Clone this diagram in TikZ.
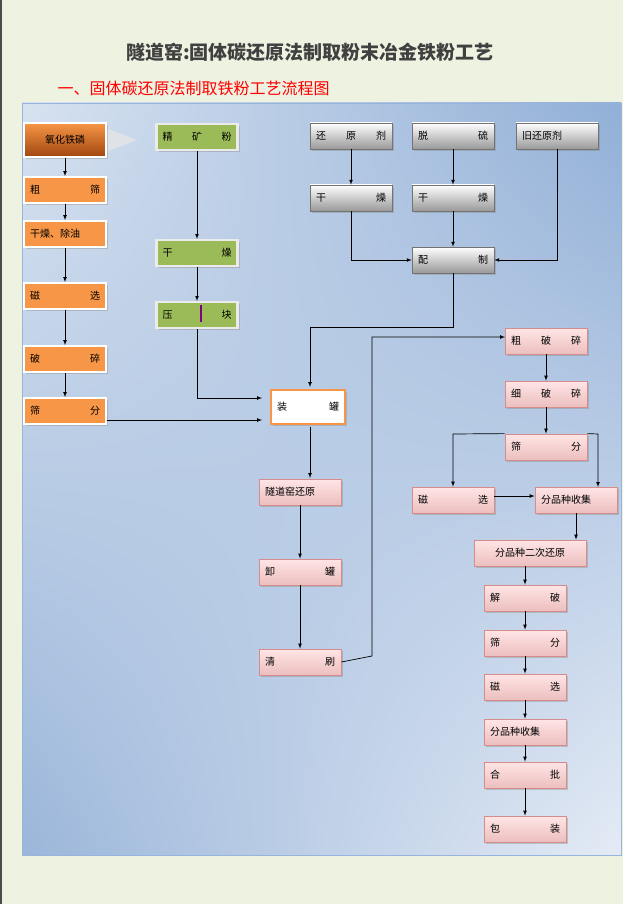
\documentclass[tikz,border=0pt]{standalone}
\usepackage{fontspec}
\newfontfamily\cjk{Noto Sans CJK SC}
\usetikzlibrary{shadows,shadings}
\definecolor{pg}{RGB}{237,242,225}
\definecolor{ogc}{RGB}{247,150,70}
\definecolor{ogd}{RGB}{160,70,15}
\definecolor{grc}{RGB}{155,187,89}
\definecolor{pkb}{RGB}{236,190,190}
\definecolor{pkd}{RGB}{215,140,140}
\definecolor{bur}{RGB}{145,175,215}
\definecolor{bul}{RGB}{215,226,240}
\definecolor{bll}{RGB}{155,182,218}
\definecolor{blr}{RGB}{228,235,245}
\definecolor{bfr}{RGB}{150,180,220}
\begin{document}
\begin{tikzpicture}[x=1pt,y=-1pt,
 base/.style={minimum height=26pt,text width=#1,align=left,inner xsep=6pt,font=\cjk\fontsize{10}{12}\selectfont,drop shadow={shadow xshift=2pt,shadow yshift=-2pt,opacity=.35}},
 og/.style={base=70pt,fill=ogc,draw=white,line width=1.8pt},
 gr/.style={base=69pt,fill=grc,draw=white!92!black,line width=2.2pt},
 gy/.style={base=70pt,top color=white,bottom color=black!40,draw=black!55,line width=.6pt},
 pkf/.style={top color=white!90!red,bottom color=pkb,draw=pkd,line width=.8pt},
 pk/.style={base=70pt,pkf},
 ar/.style={-latex,line width=.7pt},
 ln/.style={line width=.7pt}]
\useasboundingbox (0,0) rectangle (623,904);
\fill[pg] (0,0) rectangle (623,904);
\draw[line width=1.5pt,black!70] (1,0)--(1,904);
\shade[upper right=bur,upper left=bul,lower left=bll,lower right=blr] (22,103) rectangle (621,855);
\draw[bfr,line width=.8pt] (22,103) rectangle (621,855);
\node[font=\cjk\bfseries\fontsize{19}{22}\selectfont,text=black!75] (title) at (310,52) {隧道窑:固体碳还原法制取粉末冶金铁粉工艺};
\node[font=\cjk\fontsize{16}{19}\selectfont,text=red,anchor=west] (sub) at (54,88) {一、固体碳还原法制取铁粉工艺流程图};
\coordinate (k1) at (0,420);
\coordinate (k2) at (0,496);
% left column
\fill[black!10,opacity=.8] (106,128)--(137,140)--(106,152)--cycle;
\node[base=70pt,minimum height=34pt,align=center,top color=ogc,bottom color=ogd,draw=white,line width=1.5pt] (a0) at (65,140) {氧化铁磷};
\node[og] (a1) at (65,190) {粗\hfill 筛};
\node[og] (a2) at (65,234) {干燥、除油};
\node[og] (a3) at (65,296) {磁\hfill 选};
\node[og] (a4) at (65,359) {破\hfill 碎};
\node[og] (a5) at (65,411) {筛\hfill 分};
\foreach \i/\j in {a0/a1,a1/a2,a2/a3,a3/a4,a4/a5} \draw[ar] (\i)--(\j);
% green column
\node[gr] (g1) at (197,137) {精\hfill 矿\hfill 粉};
\node[gr] (g2) at (197,253) {干\hfill 燥};
\node[gr] (g3) at (197,315) {压\hfill 块};
\draw[ar] (g1)--(g2); \draw[ar] (g2)--(g3);
\draw[line width=1.2pt,violet] (201,305)--(201,322);
% gray
\node[gy] (r1) at (351,136) {还\hfill 原\hfill 剂};
\node[gy] (r2) at (453,136) {脱\hfill 硫};
\node[gy] (r3) at (557,136) {旧还原剂};
\node[gy] (d1) at (351,198) {干\hfill 燥};
\node[gy] (d2) at (453,198) {干\hfill 燥};
\node[gy] (pz) at (453,260) {配\hfill 制};
\draw[ar] (r1)--(d1); \draw[ar] (r2)--(d2); \draw[ar] (d2)--(pz);
\draw[ar] (d1.south)|-(pz.west);
\draw[ar] (r3.south)|-(pz.east);
% zhuangguan
\node[base=62pt,minimum height=34pt,fill=white,draw=ogc,line width=2.5pt] (zg) at (308,407) {装\hfill 罐};
\draw[ln] (pz.south)--(453,327)--(310,327);
\draw[ar] (310,327)--(310,387);
\draw[ar] (g3.south)--(197,398)--(262,398);
\draw[ar] (a5.east|-k1)--(262,420);
% pink middle
\node[pk] (s1) at (300,492) {隧道窑还原};
\node[pk] (s2) at (300,572) {卸\hfill 罐};
\node[pk] (s3) at (300,662) {清\hfill 刷};
\draw[ar] (310,427)--(310,478); \draw[ar] (s1)--(s2); \draw[ar] (s2)--(s3);
\draw[ar] (s3.east)--(372,656)--(372,337)--(505,337);
% right
\node[pk] (p1) at (546,341) {粗\hfill 破\hfill 碎};
\node[pk] (p2) at (546,394) {细\hfill 破\hfill 碎};
\node[pk] (p3) at (546,447) {筛\hfill 分};
\node[pk] (m1) at (453,500) {磁\hfill 选};
\node[pk] (c1) at (576,500) {分品种收集};
\node[base=100pt,pkf,align=center] (e1) at (530,553) {分品种二次还原};
\node[pk] (q1) at (525,598) {解\hfill 破};
\node[pk] (q2) at (525,643) {筛\hfill 分};
\node[pk] (q3) at (525,687) {磁\hfill 选};
\node[pk] (q4) at (525,732) {分品种收集};
\node[pk] (q5) at (525,775) {合\hfill 批};
\node[pk] (q6) at (525,829) {包\hfill 装};
\draw[ar] (p1)--(p2); \draw[ar] (p2)--(p3);
\draw[ar] (p3.north west)--(453,434)--(m1.north);
\draw[ar] (p3.north east)--(598,434)--(598,487);
\draw[ar] (m1.east|-k2)--(c1.west|-k2);
\draw[ar] (c1.south)--(e1.north-|c1.south);
\draw[ar] (e1.south-|q1.north)--(q1);
\foreach \i/\j in {q1/q2,q2/q3,q3/q4,q4/q5,q5/q6} \draw[ar] (\i)--(\j);
\end{tikzpicture}
\end{document}
